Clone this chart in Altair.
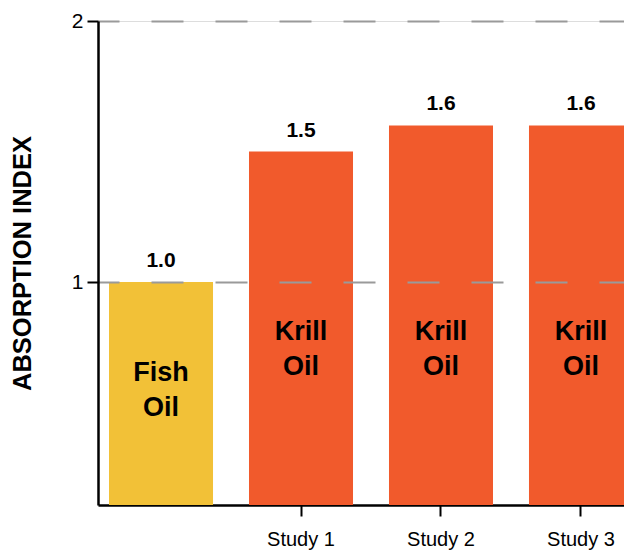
import altair as alt
import pandas as pd

# Absorption index by product / study
categories = ["Fish Oil", "Study 1", "Study 2", "Study 3"]
values = [1.0, 1.5, 1.6, 1.6]
value_labels = ["1.0", "1.5", "1.6", "1.6"]
inside_labels = ["Fish\nOil", "Krill\nOil", "Krill\nOil", "Krill\nOil"]
products = ["fish", "krill", "krill", "krill"]

df = pd.DataFrame({
    "cat": categories,
    "value": values,
    "vlabel": value_labels,
    "inside": inside_labels,
    "product": products,
})

FONT = "Liberation Sans, Arial, sans-serif"
W, H = 526, 484

x_enc = alt.X(
    "cat:N",
    sort=categories,
    scale=alt.Scale(range=[0, 546], paddingInner=0.257, paddingOuter=0.0786),
    axis=alt.Axis(
        title=None,
        values=["Study 1", "Study 2", "Study 3"],
        domainColor="black",
        domainWidth=2.5,
        tickColor="black",
        tickWidth=2,
        tickSize=11,
        labelFont=FONT,
        labelFontWeight="normal",
        labelFontSize=20,
        labelColor="black",
        labelPadding=13,
        labelAngle=0,
    ),
)

y_scale = alt.Scale(domain=[0.146, 2], nice=False, zero=False)

bars = alt.Chart(df).mark_bar(clip=True).encode(
    x=x_enc,
    y=alt.Y(
        "value:Q",
        scale=y_scale,
        axis=alt.Axis(
            title="ABSORPTION INDEX",
            values=[1, 2],
            format="d",
            grid=True,
            gridColor="#9a9a9a",
            gridWidth=2,
            gridDash=[32, 32],
            gridDashOffset=11,
            domainColor="black",
            domainWidth=2.5,
            tickColor="black",
            tickWidth=2,
            tickSize=11,
            labelFont=FONT,
            labelFontSize=21,
            labelColor="black",
            labelPadding=4,
            titleFont=FONT,
            titleFontSize=25.5,
            titleFontWeight="bold",
            titleColor="black",
            titleX=-76,
            titleY=H / 2,
            titleAlign="center",
            titleBaseline="middle",
            titleAngle=270,
            zindex=1,
        ),
    ),
    color=alt.Color(
        "product:N",
        scale=alt.Scale(domain=["fish", "krill"], range=["#F2C137", "#F15A2C"]),
        legend=None,
    ),
)

value_text = alt.Chart(df).mark_text(
    font=FONT, fontSize=21, fontWeight="bold", color="black",
    baseline="alphabetic", dy=-15, clip=True,
).encode(
    x=alt.X("cat:N", sort=categories),
    y=alt.Y("value:Q", scale=y_scale),
    text="vlabel:N",
)

fish_text = alt.Chart(df).transform_filter(alt.datum.product == "fish").mark_text(
    font=FONT, fontSize=27, fontWeight="bold", color="black",
    baseline="middle", lineBreak="\n", lineHeight=35, clip=True,
).encode(
    x=alt.X("cat:N", sort=categories),
    y=alt.value(352),
    text="inside:N",
)

krill_text = alt.Chart(df).transform_filter(alt.datum.product == "krill").mark_text(
    font=FONT, fontSize=27, fontWeight="bold", color="black",
    baseline="middle", lineBreak="\n", lineHeight=35, clip=True,
).encode(
    x=alt.X("cat:N", sort=categories),
    y=alt.value(311),
    text="inside:N",
)

chart = alt.layer(bars, value_text, fish_text, krill_text).properties(
    width=W,
    height=H,
    autosize=alt.AutoSizeParams(type="none"),
    padding={"left": 98, "top": 21, "right": 0, "bottom": 47},
).configure_view(stroke=None).configure(background="white")

chart.save("out.html", embed_options={"renderer": "svg", "actions": False})
